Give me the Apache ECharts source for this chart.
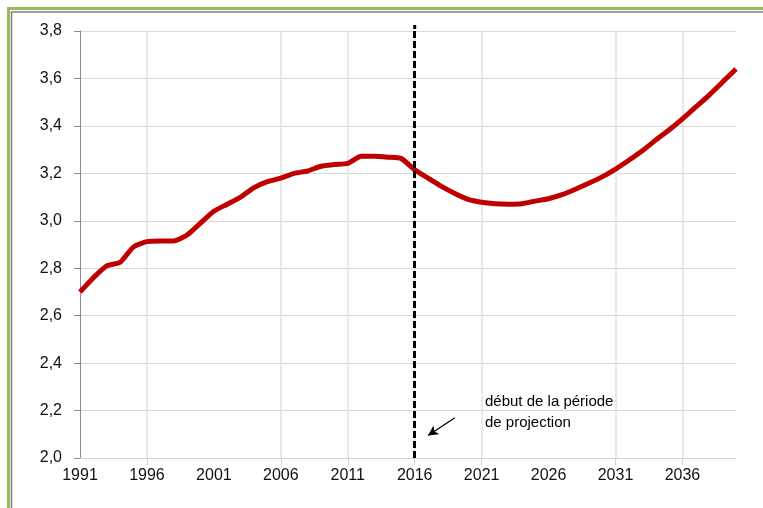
<!DOCTYPE html>
<html>
<head>
<meta charset="utf-8">
<script src="https://cdn.jsdelivr.net/npm/echarts@6/dist/echarts.min.js"></script>
<style>
html,body{margin:0;padding:0;background:#fff;}
#chart{width:763px;height:508px;}
</style>
</head>
<body>
<div id="chart"></div>
<script>
const years = [];
for (let y = 1991; y <= 2040; y++) years.push(String(y));
const values = [
  2.70, 2.76, 2.81, 2.825, 2.89, 2.912, 2.915, 2.915, 2.94, 2.99,
  3.04, 3.07, 3.10, 3.14, 3.165, 3.18, 3.20, 3.21, 3.23, 3.237,
  3.242, 3.272, 3.272, 3.268, 3.262, 3.215, 3.18, 3.145, 3.115, 3.09,
  3.078, 3.072, 3.07, 3.072, 3.083, 3.093, 3.11, 3.133, 3.158, 3.185,
  3.218, 3.255, 3.295, 3.34, 3.383, 3.43, 3.48, 3.53, 3.585, 3.64
];
const gridYears = ['1996', '2006', '2011', '2016', '2021', '2031', '2036'];
const projectionStart = '2016';
const annotationText = 'début de la période\nde projection';
const arrowFrom = ['2019', 2.17];
const arrowTo = ['2017', 2.095];

const chart = echarts.init(document.getElementById('chart'));
chart.setOption({
  animation: false,
  backgroundColor: '#fff',
  grid: { left: 80, right: 27, top: 31, bottom: 50, containLabel: false },
  xAxis: {
    type: 'category',
    data: years,
    boundaryGap: false,
    axisLine: { show: true, lineStyle: { color: '#d4d4d4', width: 1 } },
    axisTick: { show: true, interval: (i, v) => gridYears.includes(v), length: 7, lineStyle: { color: '#d4d4d4' } },
    axisLabel: { interval: 4, color: '#111', fontFamily: 'Liberation Sans, Arial', fontSize: 16, margin: 10 },
    splitLine: { show: true, interval: (i, v) => gridYears.includes(v), lineStyle: { color: '#e2e2e2', width: 1.5 } }
  },
  yAxis: {
    type: 'value',
    min: 2.0, max: 3.8, interval: 0.2,
    axisLine: { show: true, lineStyle: { color: '#8c8c8c', width: 1 } },
    axisTick: { show: true, length: 6, lineStyle: { color: '#8c8c8c' } },
    axisLabel: {
      color: '#111', fontFamily: 'Liberation Sans, Arial', fontSize: 16, margin: 18,
      formatter: v => v.toFixed(1).replace('.', ',')
    },
    splitLine: { show: true, lineStyle: { color: '#d9d9d9', width: 1 } }
  },
  series: [{
    type: 'line',
    data: values,
    showSymbol: false,
    symbol: 'none',
    smooth: 0.2,
    lineStyle: { color: '#C00000', width: 5 },
    z: 3,
    markLine: {
      silent: true,
      symbol: ['none', 'none'],
      label: { show: false },
      animation: false,
      data: [
        { xAxis: projectionStart, lineStyle: { color: '#000', width: 3, type: [7, 3] } },
        [
          { coord: arrowFrom, symbol: 'none' },
          { coord: arrowTo, symbol: 'arrow', symbolSize: [8, 10] }
        ]
      ],
      lineStyle: { color: '#000', width: 1.3, type: 'solid' }
    }
  }],
  graphic: [
    { type: 'rect', shape: { x: 8.5, y: 8.5, width: 800, height: 600 }, style: { fill: 'none', stroke: '#9BBB59', lineWidth: 3 }, silent: true },
    { type: 'rect', shape: { x: 11.5, y: 12, width: 800, height: 600 }, style: { fill: 'none', stroke: '#808080', lineWidth: 1.5 }, silent: true },
    { type: 'line', shape: { x1: 414.7, y1: 25, x2: 414.7, y2: 31 }, style: { stroke: '#000', lineWidth: 3, lineDash: [4, 2] }, silent: true },
    { type: 'text', left: 485, top: 391, style: { text: annotationText, fill: '#000', font: '15px "Liberation Sans", Arial', lineHeight: 21 }, silent: true }
  ]
});
</script>
</body>
</html>
